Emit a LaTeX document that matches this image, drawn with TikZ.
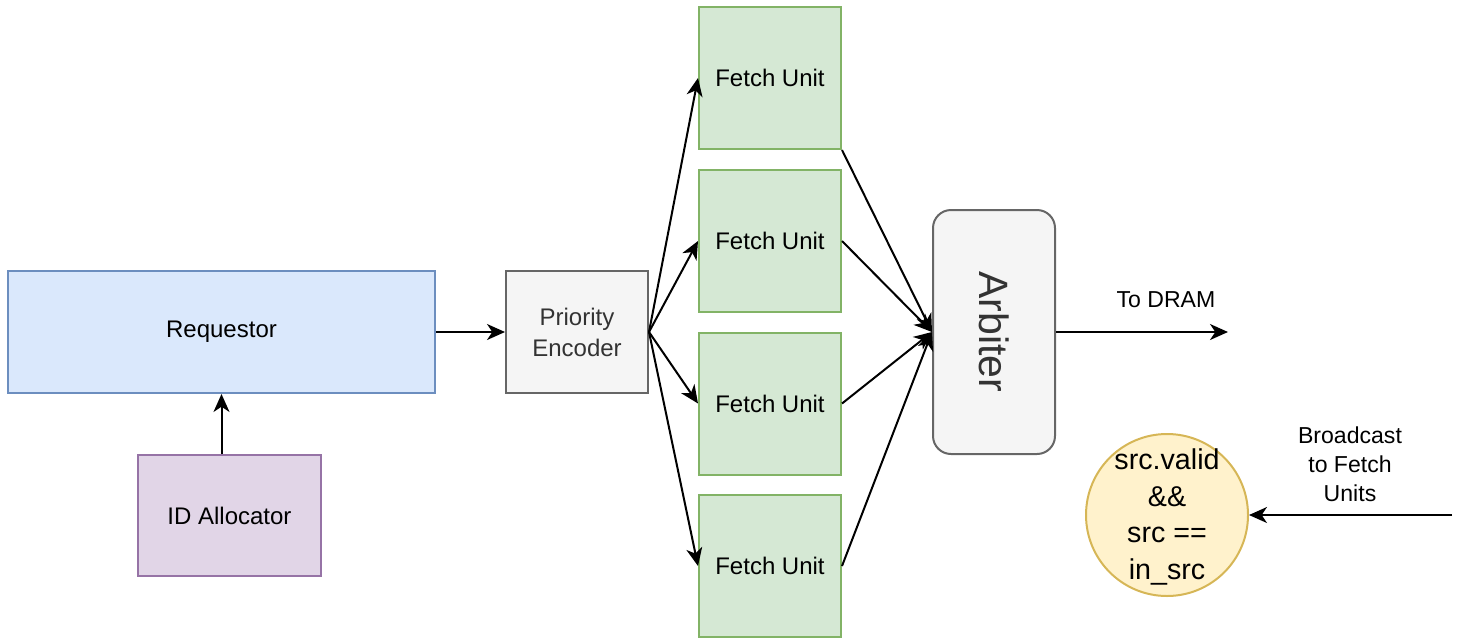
\documentclass[tikz,border=0pt]{standalone}
\usepackage{fontspec}
\setmainfont{Liberation Sans}
\usetikzlibrary{arrows.meta}
\definecolor{bluefill}{HTML}{DAE8FC}
\definecolor{bluedraw}{HTML}{6C8EBF}
\definecolor{greenfill}{HTML}{D5E8D4}
\definecolor{greendraw}{HTML}{82B366}
\definecolor{purpfill}{HTML}{E1D5E7}
\definecolor{purpdraw}{HTML}{9673A6}
\definecolor{yelfill}{HTML}{FFF2CC}
\definecolor{yeldraw}{HTML}{D6B656}
\definecolor{grayfill}{HTML}{F5F5F5}
\definecolor{graydraw}{HTML}{666666}
\definecolor{graytext}{HTML}{333333}
\tikzset{
  blk/.style={draw, line width=1.5pt, inner sep=0pt, align=center,
    font=\fontsize{18}{23.25}\selectfont},
  reqbox/.style={blk, fill=bluefill, draw=bluedraw, minimum width=320.25pt, minimum height=91.5pt},
  idbox/.style={blk, fill=purpfill, draw=purpdraw, minimum width=137.25pt, minimum height=90.75pt},
  pebox/.style={blk, fill=grayfill, draw=graydraw, text=graytext, minimum width=106.5pt, minimum height=91.5pt},
  fubox/.style={blk, fill=greenfill, draw=greendraw, minimum width=106.5pt, minimum height=106.5pt},
  arbbox/.style={blk, fill=grayfill, draw=graydraw, rounded corners=13.5pt, minimum width=91.5pt, minimum height=183pt},
  condcirc/.style={circle, draw=yeldraw, fill=yelfill, line width=1.5pt, inner sep=0pt,
    minimum size=121.5pt},
  condtxt/.style={align=center, inner sep=0pt, font=\fontsize{21.5}{27.5}\selectfont},
  lbl/.style={align=center, font=\fontsize{17.3}{21.75}\selectfont},
  conn/.style={line width=1.5pt, -{Stealth[length=13.5pt,width=12pt,inset=4pt]}}
}
\begin{document}
\begin{tikzpicture}[x=0.75pt,y=-0.75pt]
\useasboundingbox (0,0) rectangle (1460,640);
\node[reqbox] (req) at (221.5,332) {Requestor};
\node[idbox] (ida) at (229.5,515.5) {ID Allocator};
\node[pebox] (pe) at (577,332) {Priority\\Encoder};
\node[fubox] (fu1) at (770,78) {Fetch Unit};
\node[fubox] (fu2) at (770,241) {Fetch Unit};
\node[fubox] (fu3) at (770,403.5) {Fetch Unit};
\node[fubox] (fu4) at (770,566) {Fetch Unit};
\node[arbbox] (arb) at (994,332) {};
\node[rotate=-90, text=graytext, font=\fontsize{30.75}{36}\selectfont] (arbtxt) at (arb.center) {Arbiter};
\node[condcirc] (cond) at (1167,515) {};
\node[condtxt] (condlbl) at (1167,517) {src.valid\\\&\&\\src ==\\in\_src};
\coordinate (dram) at (1228,332);
\coordinate (bcast) at (1452,515);
\node[lbl] (dramlbl) at (1166,300) {To DRAM};
\node[lbl] (bclbl) at (1350,464) {Broadcast\\to Fetch\\Units};

\draw[conn] (ida.north -| req.south) -- (req.south);
\draw[conn] (req.east) -- (pe.west);
\draw[conn] (pe.east) -- (fu1.west);
\draw[conn] (pe.east) -- (fu2.west);
\draw[conn] (pe.east) -- (fu3.west);
\draw[conn] (pe.east) -- (fu4.west);
\draw[conn] (fu1.south east) -- (arb.west);
\draw[conn] (fu2.east) -- (arb.west);
\draw[conn] (fu3.east) -- (arb.west);
\draw[conn] (fu4.east) -- (arb.west);
\draw[conn] (arb.east) -- (dram);
\draw[conn] (bcast) -- (cond.east);
\end{tikzpicture}
\end{document}
